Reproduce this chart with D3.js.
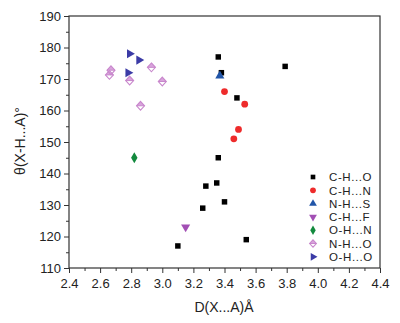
<!DOCTYPE html>
<html><head><meta charset="utf-8">
<script src="https://cdn.jsdelivr.net/npm/d3@7/dist/d3.min.js"></script>
<style>body{margin:0;background:#fff}svg{display:block;font-family:"Liberation Sans",Arial,sans-serif}</style>
</head><body><svg id="c" width="400" height="323"></svg>
<script>
const seriesNames = ["C-H...O","C-H...N","N-H...S","C-H...F","O-H...N","N-H...O","O-H...O"];
const chO = [[3.36,177],[3.38,172],[3.79,174],[3.48,164],[3.36,145],[3.35,137],[3.28,136],[3.40,131],[3.26,129],[3.54,119],[3.10,117]];
const chN = [[3.40,166],[3.53,162],[3.49,154],[3.46,151]];
const nhS = [[3.37,171]];
const chF = [[3.15,123]];
const ohN = [[2.82,145]];
const nhO = [[2.66,171.3],[2.67,172.8],[2.79,169.5],[2.93,173.7],[3.00,169.2],[2.86,161.5]];
const ohO = [[2.79,178],[2.85,176],[2.78,172]];
const xTicks = [2.4,2.6,2.8,3.0,3.2,3.4,3.6,3.8,4.0,4.2,4.4];
const yTicks = [110,120,130,140,150,160,170,180,190];

const svg = d3.select("#c");
const L=69,R=380,T=16,B=268;
const x = d3.scaleLinear().domain([2.4,4.4]).range([L,R]);
const y = d3.scaleLinear().domain([110,190]).range([B,T]);
const axCol="#333", txtCol="#222";

// frame
svg.append("rect").attr("x",L).attr("y",T).attr("width",R-L).attr("height",B-T)
  .attr("fill","none").attr("stroke",axCol).attr("stroke-width",1.2);

// x axis
const xa = svg.append("g").attr("transform",`translate(0,${B})`)
  .call(d3.axisBottom(x).tickValues(xTicks).tickFormat(d3.format(".1f")).tickSize(5).tickPadding(6));
xa.select(".domain").remove();
const xm = svg.append("g").attr("transform",`translate(0,${B})`)
  .call(d3.axisBottom(x).tickValues(d3.range(2.5,4.4,0.2)).tickFormat("").tickSize(3));
xm.select(".domain").remove();
// y axis
const ya = svg.append("g").attr("transform",`translate(${L},0)`)
  .call(d3.axisLeft(y).tickValues(yTicks).tickSize(5).tickPadding(3));
ya.select(".domain").remove();
const ym = svg.append("g").attr("transform",`translate(${L},0)`)
  .call(d3.axisLeft(y).tickValues(d3.range(115,190,10)).tickFormat("").tickSize(3));
ym.select(".domain").remove();
svg.selectAll(".tick line").attr("stroke",axCol);
svg.selectAll(".tick text").attr("fill",txtCol).style("font-size","13px").style("font-family","'Liberation Sans',Arial,sans-serif");

// axis labels
svg.append("text").attr("x",224).attr("y",312).attr("text-anchor","middle")
  .attr("fill",txtCol).style("font-size","14px").text("D(X...A)Å");
svg.append("text").attr("transform","translate(25,141) rotate(-90)").attr("text-anchor","middle")
  .attr("fill",txtCol).style("font-size","14px").text("θ(X-H...A)°");

// symbols
const styles = [
  {data:chO, type:d3.symbolSquare, size:30, fill:"#000", rot:0},
  {data:chN, type:d3.symbolCircle, size:36, fill:"#ee2b2b", rot:0},
  {data:nhS, type:d3.symbolTriangle, size:36, fill:"#2155a8", rot:0},
  {data:chF, type:d3.symbolTriangle, size:36, fill:"#a24fb4", rot:180},
  {data:ohN, type:d3.symbolDiamond, size:36, fill:"#138a3e", rot:0},
  {data:nhO, type:"half", size:36, fill:"#d9a3dc", rot:0},
  {data:ohO, type:d3.symbolTriangle, size:36, fill:"#3b3ba6", rot:90}
];
function drawSym(g, st, cx, cy, scale){
  if(st.type==="half"){
    const h=4.4*scale, w=4.0*scale;
    g.append("path").attr("d",`M${cx},${cy-h}L${cx+w},${cy}L${cx-w},${cy}Z`).attr("fill",st.fill);
    g.append("path").attr("d",`M${cx},${cy-h}L${cx+w},${cy}L${cx},${cy+h}L${cx-w},${cy}Z`)
      .attr("fill","none").attr("stroke","#c887cc").attr("stroke-width",1.1);
    g.append("line").attr("x1",cx-w).attr("x2",cx+w).attr("y1",cy).attr("y2",cy).attr("stroke","#c887cc").attr("stroke-width",1);
  } else {
    g.append("path").attr("d",d3.symbol().type(st.type).size(st.size*scale*scale)())
      .attr("transform",`translate(${cx},${cy}) rotate(${st.rot})`).attr("fill",st.fill);
  }
}
const pg = svg.append("g");
styles.forEach(st=>{ st.data.forEach(d=>drawSym(pg, st, x(d[0]), y(d[1]), 1)); });

// legend
const lg = svg.append("g");
seriesNames.forEach((n,i)=>{
  const cy = 177 + i*13.3;
  drawSym(lg, styles[i], 313, cy, 0.85);
  lg.append("text").attr("x",329).attr("y",cy+4.2).attr("fill",txtCol)
    .style("font-size","11.5px").style("letter-spacing","0.6px").text(n);
});
</script></body></html>
